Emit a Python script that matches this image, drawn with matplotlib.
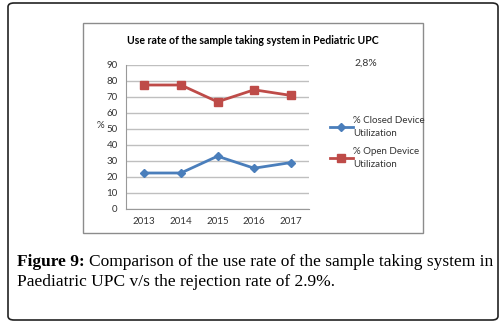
import matplotlib
matplotlib.use("Agg")
import matplotlib.pyplot as plt
from matplotlib.patches import FancyBboxPatch, Rectangle

BLUE = "#4a7ebb"
RED = "#be4b48"
GRID = "#bfbfbf"

years = ["2013", "2014", "2015", "2016", "2017"]
closed = [22.5, 22.5, 33.0, 25.5, 29.0]
opened = [77.5, 77.5, 67.0, 74.5, 71.0]
yticks = [0, 10, 20, 30, 40, 50, 60, 70, 80, 90]

CHART_FONT = ["Lato", "DejaVu Sans"]
CAPTION_FONT = ["Liberation Serif", "DejaVu Serif"]

fig = plt.figure(figsize=(5.0, 3.27), dpi=100)
W, H = 500, 327


def fx(px):
    return px / W


def fy(py):
    return 1 - py / H


# outer rounded frame
fig.patches.append(FancyBboxPatch((fx(8), fy(320)), fx(490), 317 / H,
                                  boxstyle="round,pad=0,rounding_size=0.012",
                                  transform=fig.transFigure, fill=False,
                                  edgecolor="#222222", linewidth=1.2))
# inner chart box
fig.patches.append(Rectangle((fx(83), fy(233)), fx(340), 210 / H,
                             transform=fig.transFigure, fill=False,
                             edgecolor="#8c8c8c", linewidth=1.0))

ax = fig.add_axes([fx(126), fy(209), fx(183), 144 / H])
x = range(len(years))
ax.plot(x, closed, color=BLUE, lw=2, marker="D", ms=4.5,
        label="% Closed Device\nUtilization")
ax.plot(x, opened, color=RED, lw=2, marker="s", ms=6,
        label="% Open Device\nUtilization")
ax.set_xlim(-0.5, 4.5)
ax.set_ylim(0, 90)
ax.set_yticks(yticks)
ax.set_xticks(list(x))
ax.set_xticklabels(years)
ax.yaxis.grid(True, color=GRID, lw=1)
ax.set_axisbelow(True)
for s in ["top", "right"]:
    ax.spines[s].set_visible(False)
for s in ["left", "bottom"]:
    ax.spines[s].set_color("#999999")
ax.tick_params(length=0, labelsize=7, colors="#333333", pad=6)
for lab in ax.get_xticklabels() + ax.get_yticklabels():
    lab.set_family(CHART_FONT)
ax.set_ylabel("%", rotation=0, fontsize=7, family=CHART_FONT, labelpad=4,
              color="#333333")
ax.yaxis.set_label_coords(-0.14, 0.55)

fig.text(fx(253), fy(41), "Use rate of the sample taking system in Pediatric UPC",
         ha="center", va="center", fontsize=7.6, fontweight="bold",
         family=CHART_FONT)
fig.text(fx(366), fy(63), "2,8%", ha="center", va="center", fontsize=7.5,
         family=CHART_FONT, color="#333333")

leg = fig.legend(loc="upper left", bbox_to_anchor=(fx(321), fy(107)),
                 frameon=False, handlelength=2.4,
                 handletextpad=0.0, labelspacing=0.9,
                 prop={"family": CHART_FONT, "size": 7})
for t in leg.get_texts():
    t.set_color("#333333")
    t.set_linespacing(1.6)

# caption
cap_size = 12.5
bold = fig.text(fx(17), fy(262), "Figure 9:", ha="left", va="center",
                fontsize=cap_size, fontweight="bold", family=CAPTION_FONT)
r = fig.canvas.get_renderer()
bb = bold.get_window_extent(r)
fig.text(bb.x1 / fig.bbox.width + fx(4), fy(262),
         "Comparison of the use rate of the sample taking system in",
         ha="left", va="center", fontsize=cap_size, family=CAPTION_FONT)
fig.text(fx(17), fy(282), "Paediatric UPC v/s the rejection rate of 2.9%.",
         ha="left", va="center", fontsize=cap_size, family=CAPTION_FONT)

fig.savefig("out.png", dpi=100)
